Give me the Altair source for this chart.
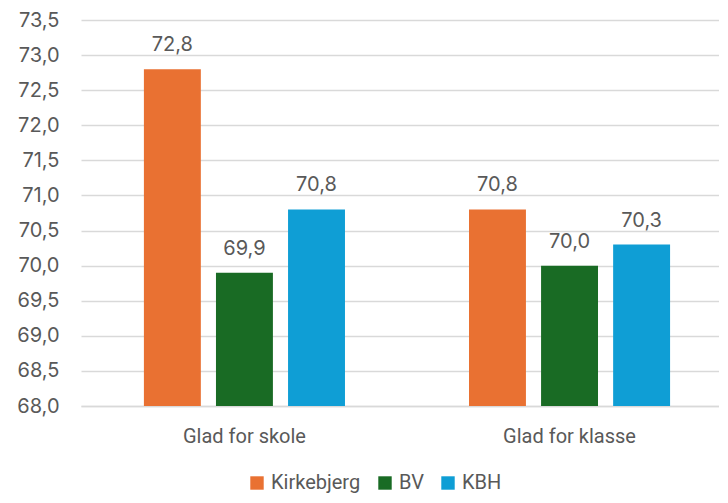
import altair as alt
import pandas as pd

categories = ["Glad for skole", "Glad for klasse"]
series = ["Kirkebjerg", "BV", "KBH"]
values = {
    "Kirkebjerg": [72.8, 70.8],
    "BV": [69.9, 70.0],
    "KBH": [70.8, 70.3],
}
colors = ["#E97132", "#196B24", "#0F9ED5"]
y_ticks = [68.0 + 0.5 * i for i in range(12)]

rows = []
for s in series:
    for c, v in zip(categories, values[s]):
        rows.append({"Kategori": c, "Serie": s, "Værdi": v})
df = pd.DataFrame(rows)

FONT = "Roboto"
NUMFONT = "Inter"
TXT = "#595959"
FS = 20

y_enc = alt.Y("Værdi:Q", title=None,
              scale=alt.Scale(domain=[68, 73.5], nice=False, zero=False),
              axis=alt.Axis(values=y_ticks, domain=False, ticks=False, labelPadding=22,
                            labelFontSize=FS, labelColor=TXT, labelFont=NUMFONT,
                            labelOverlap=False, tickCount=12,
                            gridColor="#d9d9d9", gridWidth=1.5,
                            labelExpr="replace(format(datum.value, '.1f'), '.', ',')"))

base = alt.Chart(df).encode(
    x=alt.X("Kategori:N", sort=categories, title=None,
            scale=alt.Scale(paddingInner=0.3815, paddingOuter=0.172, align=0.5625),
            axis=alt.Axis(labelAngle=0, ticks=False, domain=True, domainColor="#d9d9d9",
                          domainWidth=1.5, labelPadding=20, labelFontSize=FS,
                          labelColor=TXT, labelFont=FONT, grid=False)),
    xOffset=alt.XOffset("Serie:N", sort=series,
                        scale=alt.Scale(paddingInner=0.21, paddingOuter=0)),
    y=y_enc,
)

bars = base.mark_bar(clip=True).encode(
    y2=alt.datum(68),
    color=alt.Color("Serie:N", sort=series,
                    scale=alt.Scale(domain=series, range=colors),
                    legend=alt.Legend(orient="none", legendX=166, legendY=453,
                                      direction="horizontal", title=None,
                                      symbolType="square", symbolSize=180,
                                      symbolStrokeWidth=0, labelFontSize=FS,
                                      labelColor=TXT, labelFont=FONT, columnPadding=14,
                                      symbolOffset=0, labelOffset=4)),
)

labels = base.mark_text(dy=-14, baseline="bottom", fontSize=FS, color=TXT,
                        font=NUMFONT).transform_calculate(
    lab="replace(format(datum['Værdi'], '.1f'), '.', ',')"
).encode(
    text=alt.Text("lab:N"),
)

chart = alt.layer(bars, labels).properties(
    width=638, height=386,
    padding={"left": 73, "top": 12, "right": 0, "bottom": 89},
    autosize=alt.AutoSizeParams(type="none"),
).configure_view(stroke=None)

chart.save("out.html", embed_options={"renderer": "svg", "actions": False})
